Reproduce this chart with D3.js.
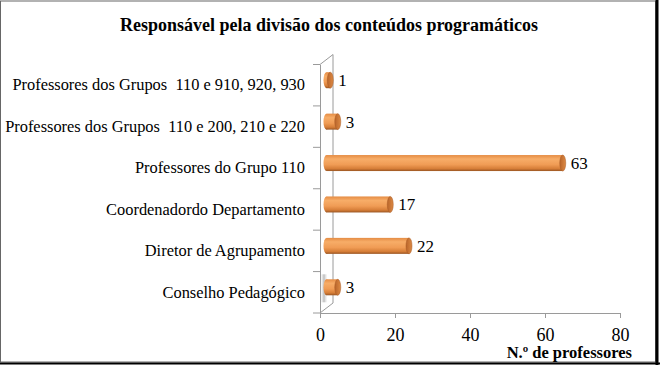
<!DOCTYPE html>
<html lang="pt">
<head>
<meta charset="UTF-8">
<script src="https://d3js.org/d3.v7.min.js"></script>
<style>
  body { margin: 0; background: #fff; }
  svg text { font-family: "Liberation Serif", "Times New Roman", serif; fill: #000; }
</style>
</head>
<body>
<svg id="chart"></svg>
<script>
// dados (de baixo para cima)
const categories = [
  "Conselho Pedagógico",
  "Diretor de Agrupamento",
  "Coordenadordo Departamento",
  "Professores do Grupo 110",
  "Professores dos Grupos  110 e 200, 210 e 220",
  "Professores dos Grupos  110 e 910, 920, 930"
];
const values = [3, 22, 17, 63, 3, 1];
const xTicks = [0, 20, 40, 60, 80];
const title = "Responsável pela divisão dos conteúdos programáticos";
const xTitle = "N.º de professores";

const W = 660, H = 365;
const depth = {dx: 13, dy: -10};

const svg = d3.select("#chart").attr("width", W).attr("height", H);

const defs = svg.append("defs");
const grad = defs.append("linearGradient").attr("id", "cyl")
  .attr("x1", 0).attr("y1", 0).attr("x2", 0).attr("y2", 1);
grad.append("stop").attr("offset", "0%").attr("stop-color", "#e58c44");
grad.append("stop").attr("offset", "25%").attr("stop-color", "#f7ad68");
grad.append("stop").attr("offset", "60%").attr("stop-color", "#f09c55");
grad.append("stop").attr("offset", "85%").attr("stop-color", "#d67e38");
grad.append("stop").attr("offset", "100%").attr("stop-color", "#9a5522");
const capGrad = defs.append("linearGradient").attr("id", "cap")
  .attr("x1", 0).attr("y1", 0).attr("x2", 1).attr("y2", 0);
capGrad.append("stop").attr("offset", "0%").attr("stop-color", "#b8642a");
capGrad.append("stop").attr("offset", "100%").attr("stop-color", "#dd8a44");
const shadowGrad = defs.append("linearGradient").attr("id", "shadow")
  .attr("x1", 0).attr("y1", 0).attr("x2", 1).attr("y2", 0);
shadowGrad.append("stop").attr("offset", "0%").attr("stop-color", "#ddd").attr("stop-opacity", 0.2);
shadowGrad.append("stop").attr("offset", "50%").attr("stop-color", "#aaa").attr("stop-opacity", 0.8);
shadowGrad.append("stop").attr("offset", "100%").attr("stop-color", "#ddd").attr("stop-opacity", 0.2);

// moldura
svg.append("rect").attr("x", 0.5).attr("y", 1).attr("width", 655).attr("height", 361)
  .attr("fill", "none").attr("stroke", "#666").attr("stroke-width", 1);
svg.append("line").attr("x1", 657).attr("x2", 657).attr("y1", 0).attr("y2", 365)
  .attr("stroke", "#000").attr("stroke-width", 3);
svg.append("line").attr("x1", 0).attr("x2", 660).attr("y1", 363.5).attr("y2", 363.5)
  .attr("stroke", "#000").attr("stroke-width", 2);

svg.append("text").attr("x", 329).attr("y", 31)
  .attr("text-anchor", "middle").style("font-size", "18px").style("font-weight", "bold")
  .text(title);

const x = d3.scaleLinear().domain([0, 80]).range([320, 620]);
const y = d3.scaleBand().domain(categories.slice().reverse()).range([64.5, 313]);

const axisColor = "#9a9a9a";

// parede lateral (3D)
const x0 = x(0), yTop = y.range()[0], yBot = y.range()[1];
svg.append("path")
  .attr("d", `M${x0},${yBot} L${x0 + depth.dx},${yBot + depth.dy} L${x0 + depth.dx},${yTop + depth.dy} L${x0},${yTop}`)
  .attr("fill", "none").attr("stroke", axisColor).attr("stroke-width", 1);

// eixo y (categorias)
const yAxis = svg.append("g")
  .attr("transform", `translate(${x0},0)`)
  .call(d3.axisLeft(y).tickSizeOuter(0).tickValues([]));
yAxis.select(".domain").attr("stroke", axisColor);
const bounds = [yTop].concat(categories.slice().reverse().map(c => y(c) + y.step()));
yAxis.selectAll(".sep").data(bounds).enter().append("line")
  .attr("x1", -7).attr("x2", 0).attr("y1", d => d).attr("y2", d => d)
  .attr("stroke", axisColor);
yAxis.selectAll(".cat").data(categories).enter().append("text")
  .attr("x", -15).attr("y", d => y(d) + y.bandwidth() / 2).attr("dy", "0.32em")
  .attr("text-anchor", "end").style("font-size", "16.4px").style("white-space", "pre")
  .text(d => d);

// eixo x
const xAxis = svg.append("g")
  .attr("transform", `translate(0,${yBot})`)
  .call(d3.axisBottom(x).tickValues(xTicks).tickSize(5).tickSizeOuter(0).tickPadding(10));
xAxis.select(".domain").attr("stroke", axisColor);
xAxis.selectAll(".tick line").attr("stroke", axisColor);
xAxis.selectAll(".tick text").style("font-size", "18px").attr("fill", "#000");

svg.append("text").attr("x", 632).attr("y", 358)
  .attr("text-anchor", "end").style("font-size", "16.5px").style("font-weight", "bold")
  .text(xTitle);

// cilindros
const bh = 16, rx = 3;
const ox = depth.dx / 2, oy = depth.dy / 2;
const data = categories.map((c, i) => ({cat: c, v: values[i]}));

// sombra na parede da barra de baixo
svg.append("rect")
  .attr("x", x0 + 1).attr("y", y(categories[0]) + y.bandwidth() / 2 + oy - 13)
  .attr("width", 6).attr("height", 28).attr("fill", "url(#shadow)");

const bars = svg.selectAll(".bar").data(data).enter().append("g").attr("class", "bar");
bars.each(function (d) {
  const g = d3.select(this);
  const cy = y(d.cat) + y.bandwidth() / 2 + oy;
  const xs = x(0) + ox, xe = x(d.v) + ox;
  g.append("ellipse").attr("cx", xs).attr("cy", cy).attr("rx", rx).attr("ry", bh / 2)
    .attr("fill", "url(#cyl)");
  g.append("rect").attr("x", xs).attr("y", cy - bh / 2).attr("width", Math.max(0, xe - xs)).attr("height", bh)
    .attr("fill", "url(#cyl)");
  g.append("ellipse").attr("cx", xe).attr("cy", cy).attr("rx", rx).attr("ry", bh / 2)
    .attr("fill", "url(#cap)").attr("stroke", "#a85a24").attr("stroke-width", 0.5);
  g.append("text").attr("x", xe + rx + 5).attr("y", cy).attr("dy", "0.35em")
    .style("font-size", "17px").text(d.v);
});
</script>
</body>
</html>
